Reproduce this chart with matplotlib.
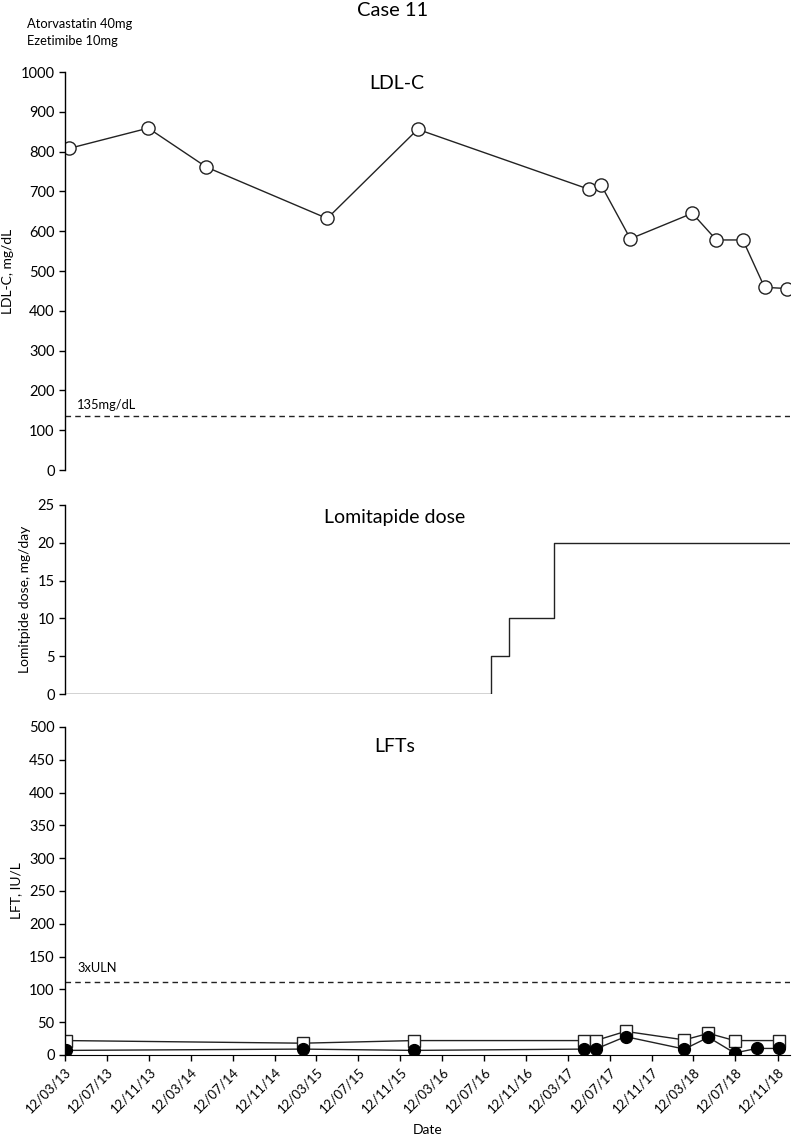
import matplotlib
matplotlib.use("Agg")
import matplotlib.pyplot as plt
import matplotlib.dates as mdates
import numpy as np
import pandas as pd

plt.rcParams["font.family"] = ["Lato", "DejaVu Sans"]
plt.rcParams["font.size"] = 10

# LDL-C, mg/dL
ldl_dates = pd.to_datetime([
    "2013-03-24", "2013-11-09", "2014-04-27", "2015-04-13", "2016-01-01",
    "2017-05-14", "2017-06-17", "2017-09-10", "2018-03-09", "2018-05-18",
    "2018-08-03", "2018-10-05", "2018-12-08",
])
ldl_values = [808, 859, 761, 632, 856, 705, 716, 581, 645, 578, 578, 459, 456]
ldl_target = 135

# lomitapide dose, mg/day (step changes)
dose_dates = pd.to_datetime(["2013-03-12", "2016-08-01", "2016-09-23", "2017-02-01", "2018-12-17"])
dose_values = [0, 5, 10, 20, 20]

# LFTs, IU/L
lft_sq_dates = pd.to_datetime([
    "2013-03-15", "2015-02-01", "2015-12-22", "2017-04-27", "2017-06-01",
    "2017-08-27", "2018-02-14", "2018-04-25", "2018-07-10", "2018-11-15",
])
lft_sq_values = [22, 18, 22, 22, 22, 36, 23, 33, 22, 22]
lft_dot_dates = pd.to_datetime([
    "2013-03-15", "2015-02-01", "2015-12-22", "2017-04-27", "2017-06-01",
    "2017-08-27", "2018-02-14", "2018-04-25", "2018-07-10", "2018-09-12",
    "2018-11-15",
])
lft_dot_values = [7, 9, 7, 9, 9, 28, 9, 27, 3, 10, 10]
uln3 = 111

x_min = pd.Timestamp("2013-03-12")
x_max = pd.Timestamp("2018-12-18")

W, H = 797, 1136
fig = plt.figure(figsize=(W / 100, H / 100), dpi=100)


def px_axes(left, top, right, bottom):
    return fig.add_axes([left / W, 1 - bottom / H, (right - left) / W, (bottom - top) / H])


def style_axis(ax, show_bottom):
    for side in ["top", "right"]:
        ax.spines[side].set_visible(False)
    ax.spines["bottom"].set_visible(show_bottom)
    ax.spines["left"].set_linewidth(1)
    ax.tick_params(axis="y", direction="out", length=4, width=1, labelsize=10.5)
    ax.set_xlim(x_min, x_max)


line_kw = dict(color="#222222", linewidth=1)

# LDL-C panel
ax1 = px_axes(65, 72, 790, 470)
style_axis(ax1, False)
ax1.plot(ldl_dates, ldl_values, marker="o", markersize=9.5, markerfacecolor="white",
         markeredgecolor="#222222", markeredgewidth=1, **line_kw)
ax1.axhline(ldl_target, color="#222222", linewidth=1, linestyle=(0, (4, 3)))
ax1.text(x_min + pd.Timedelta(days=35), ldl_target + 12, "135mg/dL", fontsize=9.3, va="bottom")
ax1.set_ylim(0, 1000)
ax1.set_yticks(np.arange(0, 1001, 100))
ax1.set_xticks([])
ax1.set_ylabel("LDL-C, mg/dL", fontsize=10, labelpad=5)
ax1.text((397 - 65) / 725, (470 - 83) / 398, "LDL-C", transform=ax1.transAxes,
         fontsize=14, ha="center", va="center")

# Lomitapide dose panel
ax2 = px_axes(65, 505, 790, 694)
style_axis(ax2, False)
ax2.plot(dose_dates, dose_values, drawstyle="steps-post", **line_kw)
ax2.set_ylim(0, 25)
ax2.set_yticks(np.arange(0, 26, 5))
ax2.set_xticks([])
ax2.set_ylabel("Lomitpide dose, mg/day", fontsize=10, labelpad=5)
ax2.text((395 - 65) / 725, (694 - 518) / 189, "Lomitapide dose", transform=ax2.transAxes,
         fontsize=14, ha="center", va="center")

# LFT panel
ax3 = px_axes(65, 727, 790, 1055)
style_axis(ax3, True)
ax3.plot(lft_sq_dates, lft_sq_values, marker="s", markersize=9, markerfacecolor="white",
         markeredgecolor="#222222", markeredgewidth=1, **line_kw)
ax3.plot(lft_dot_dates, lft_dot_values, marker="o", markersize=8.5, markerfacecolor="black",
         markeredgecolor="black", **line_kw)
ax3.axhline(uln3, color="#222222", linewidth=1, linestyle=(0, (4, 3)))
ax3.text(x_min + pd.Timedelta(days=35), uln3 + 12, "3xULN", fontsize=9.3, va="bottom")
ax3.set_ylim(0, 500)
ax3.set_yticks(np.arange(0, 501, 50))
ax3.set_ylabel("LFT, IU/L", fontsize=10, labelpad=5)
ax3.text((395 - 65) / 725, (1055 - 746) / 328, "LFTs", transform=ax3.transAxes,
         fontsize=14, ha="center", va="center")
ax3.xaxis.set_major_locator(mdates.MonthLocator(bymonth=(3, 7, 11), bymonthday=12))
ax3.xaxis.set_major_formatter(mdates.DateFormatter("%d/%m/%y"))
ax3.tick_params(axis="x", direction="out", length=4, width=1, labelsize=9.5)
plt.setp(ax3.get_xticklabels(), rotation=45, ha="right", rotation_mode="anchor")
ax3.set_xlabel("Date", fontsize=10, labelpad=6)

fig.text(393 / W, 1 - 11 / H, "Case 11", fontsize=14.5, ha="center", va="center")
fig.text(27 / W, 1 - 24 / H, "Atorvastatin 40mg", fontsize=9.3, va="center")
fig.text(27 / W, 1 - 41 / H, "Ezetimibe 10mg", fontsize=9.3, va="center")

fig.savefig("out.png", dpi=100)
